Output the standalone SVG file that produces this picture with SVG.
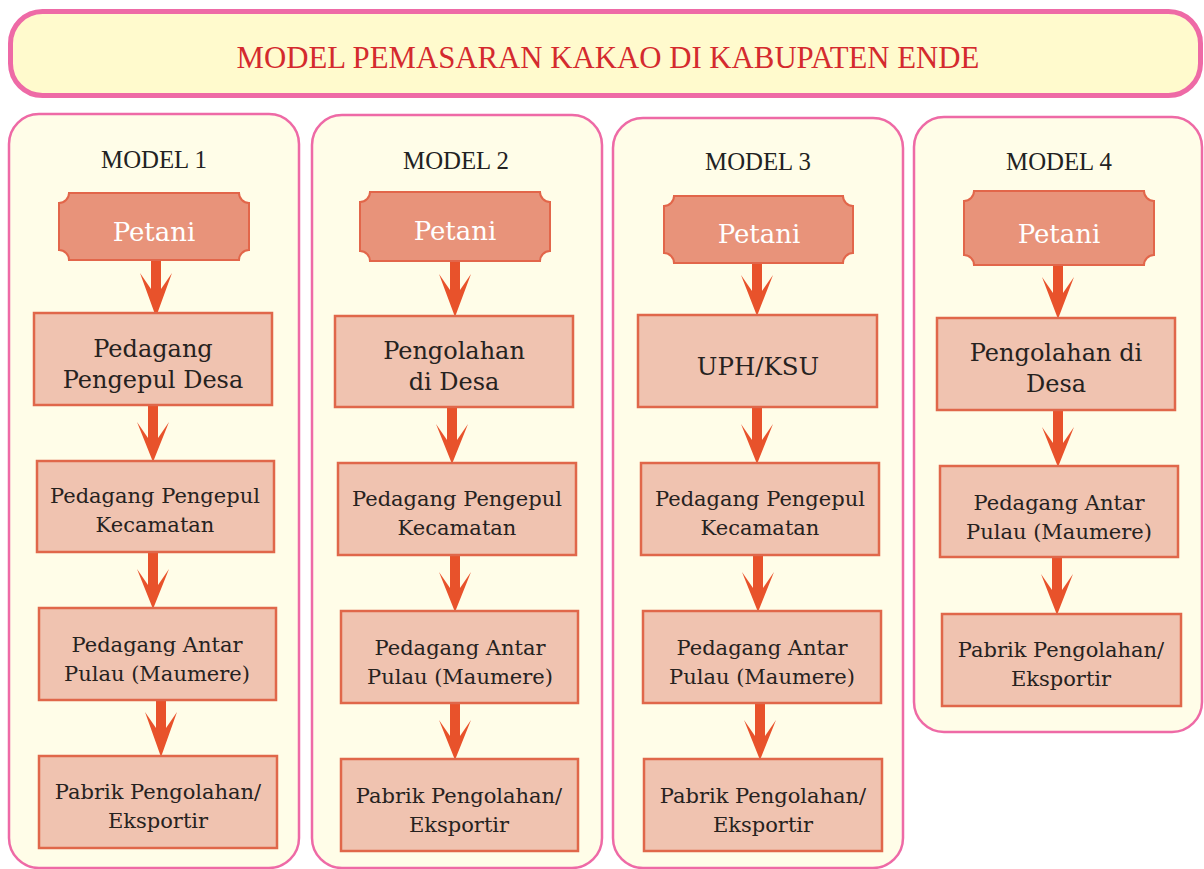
<svg xmlns="http://www.w3.org/2000/svg" width="1204" height="869" viewBox="0 0 1204 869">
  <style>
    .title-box { fill: #FFFACD; stroke: #EE6AA6; stroke-width: 5; }
    .title { font-family: "Liberation Serif", "DejaVu Serif", serif; font-size: 30.8px; fill: #D42A2E; text-anchor: middle; }
    .panel { fill: #FFFDE8; stroke: #EE6AA6; stroke-width: 2.5; }
    .model { font-family: "Liberation Serif", "DejaVu Serif", serif; font-size: 24.8px; fill: #222222; text-anchor: middle; }
    .petani { fill: #E8937A; stroke: #E2664A; stroke-width: 2; }
    .petani-t { font-family: "DejaVu Serif", "Liberation Serif", serif; font-size: 26px; fill: #FFFFFF; text-anchor: middle; }
    .box { fill: #F0C3B0; stroke: #E0674A; stroke-width: 2.5; }
    .lg { font-family: "DejaVu Serif", "Liberation Serif", serif; font-size: 24px; fill: #262220; text-anchor: middle; }
    .sm { font-family: "DejaVu Serif", "Liberation Serif", serif; font-size: 21px; fill: #262220; text-anchor: middle; }
    .arrow { fill: #E8522B; }
  </style>

  <!-- header banner -->
  <g id="header">
    <rect class="title-box" x="10.5" y="11.5" width="1190" height="84" rx="32"/>
    <text class="title" x="608" y="68">MODEL PEMASARAN KAKAO DI KABUPATEN ENDE</text>
  </g>

  <!-- column panels -->
  <g id="panel-1">
    <rect class="panel" x="9" y="114" width="290" height="754" rx="30"/>
    <text class="model" x="154" y="168">MODEL 1</text>
  </g>
  <g id="panel-2">
    <rect class="panel" x="312" y="115" width="290" height="753" rx="30"/>
    <text class="model" x="456" y="169">MODEL 2</text>
  </g>
  <g id="panel-3">
    <rect class="panel" x="613" y="118" width="290" height="750" rx="30"/>
    <text class="model" x="758" y="170">MODEL 3</text>
  </g>
  <g id="panel-4">
    <rect class="panel" x="914" y="117" width="288" height="615" rx="30"/>
    <text class="model" x="1059" y="170">MODEL 4</text>
  </g>

  <!-- connectors -->
  <g id="connectors">
    <!-- model 1 -->
    <path class="arrow" d="M151,260 V289 L140,273 L156,317 L172,273 L161,289 V260 Z"/>
    <path class="arrow" d="M148,405 V438 L137,422 L153,462 L169,422 L158,438 V405 Z"/>
    <path class="arrow" d="M148,552 V585 L137,569 L153,609 L169,569 L158,585 V552 Z"/>
    <path class="arrow" d="M156,700 V728 L145,712 L161,757 L177,712 L166,728 V700 Z"/>
    <!-- model 2 -->
    <path class="arrow" d="M450,261 V290 L439,274 L455,317 L471,274 L460,290 V261 Z"/>
    <path class="arrow" d="M447,407 V440 L436,424 L452,464 L468,424 L457,440 V407 Z"/>
    <path class="arrow" d="M450,555 V588 L439,572 L455,612 L471,572 L460,588 V555 Z"/>
    <path class="arrow" d="M450,703 V736 L439,720 L455,760 L471,720 L460,736 V703 Z"/>
    <!-- model 3 -->
    <path class="arrow" d="M752,263 V291 L741,275 L757,316 L773,275 L762,291 V263 Z"/>
    <path class="arrow" d="M752,407 V440 L741,424 L757,464 L773,424 L762,440 V407 Z"/>
    <path class="arrow" d="M753,555 V588 L742,572 L758,612 L774,572 L763,588 V555 Z"/>
    <path class="arrow" d="M755,703 V736 L744,720 L760,760 L776,720 L765,736 V703 Z"/>
    <!-- model 4 -->
    <path class="arrow" d="M1053,265 V293 L1042,277 L1058,319 L1074,277 L1063,293 V265 Z"/>
    <path class="arrow" d="M1053,410 V443 L1042,427 L1058,467 L1074,427 L1063,443 V410 Z"/>
    <path class="arrow" d="M1052,557 V590 L1041,574 L1057,615 L1073,574 L1062,590 V557 Z"/>
  </g>

  <!-- model 1 nodes -->
  <g id="m1-petani">
    <path class="petani" d="M69,193 H239 A10,10 0 0 0 249,203 V250 A10,10 0 0 0 239,260 H69 A10,10 0 0 0 59,250 V203 A10,10 0 0 0 69,193 Z"/>
    <text class="petani-t" x="154" y="241">Petani</text>
  </g>
  <g id="m1-pengepul-desa">
    <rect class="box" x="34" y="313" width="238" height="92"/>
    <text class="lg" x="153" y="357">Pedagang</text>
    <text class="lg" x="153" y="388">Pengepul Desa</text>
  </g>
  <g id="m1-pengepul-kecamatan">
    <rect class="box" x="37" y="461" width="237" height="91"/>
    <text class="sm" x="155" y="503">Pedagang Pengepul</text>
    <text class="sm" x="155" y="532">Kecamatan</text>
  </g>
  <g id="m1-antar-pulau">
    <rect class="box" x="39" y="608" width="237" height="92"/>
    <text class="sm" x="157" y="652">Pedagang Antar</text>
    <text class="sm" x="157" y="681">Pulau (Maumere)</text>
  </g>
  <g id="m1-pabrik">
    <rect class="box" x="39" y="756" width="238" height="92"/>
    <text class="sm" x="158" y="799">Pabrik Pengolahan/</text>
    <text class="sm" x="158" y="828">Eksportir</text>
  </g>

  <!-- model 2 nodes -->
  <g id="m2-petani">
    <path class="petani" d="M370,192 H540 A10,10 0 0 0 550,202 V251 A10,10 0 0 0 540,261 H370 A10,10 0 0 0 360,251 V202 A10,10 0 0 0 370,192 Z"/>
    <text class="petani-t" x="455" y="240">Petani</text>
  </g>
  <g id="m2-pengolahan">
    <rect class="box" x="335" y="316" width="238" height="91"/>
    <text class="lg" x="454" y="359">Pengolahan</text>
    <text class="lg" x="454" y="390">di Desa</text>
  </g>
  <g id="m2-pengepul-kecamatan">
    <rect class="box" x="338" y="463" width="238" height="92"/>
    <text class="sm" x="457" y="506">Pedagang Pengepul</text>
    <text class="sm" x="457" y="535">Kecamatan</text>
  </g>
  <g id="m2-antar-pulau">
    <rect class="box" x="341" y="611" width="237" height="92"/>
    <text class="sm" x="460" y="655">Pedagang Antar</text>
    <text class="sm" x="460" y="684">Pulau (Maumere)</text>
  </g>
  <g id="m2-pabrik">
    <rect class="box" x="341" y="759" width="237" height="92"/>
    <text class="sm" x="459" y="803">Pabrik Pengolahan/</text>
    <text class="sm" x="459" y="832">Eksportir</text>
  </g>

  <!-- model 3 nodes -->
  <g id="m3-petani">
    <path class="petani" d="M674,196 H843 A10,10 0 0 0 853,206 V253 A10,10 0 0 0 843,263 H674 A10,10 0 0 0 664,253 V206 A10,10 0 0 0 674,196 Z"/>
    <text class="petani-t" x="759" y="243">Petani</text>
  </g>
  <g id="m3-uph-ksu">
    <rect class="box" x="638" y="315" width="239" height="92"/>
    <text class="lg" x="758" y="375" style="font-size:24.5px">UPH/KSU</text>
  </g>
  <g id="m3-pengepul-kecamatan">
    <rect class="box" x="641" y="463" width="238" height="92"/>
    <text class="sm" x="760" y="506">Pedagang Pengepul</text>
    <text class="sm" x="760" y="535">Kecamatan</text>
  </g>
  <g id="m3-antar-pulau">
    <rect class="box" x="643" y="611" width="238" height="92"/>
    <text class="sm" x="762" y="655">Pedagang Antar</text>
    <text class="sm" x="762" y="684">Pulau (Maumere)</text>
  </g>
  <g id="m3-pabrik">
    <rect class="box" x="644" y="759" width="238" height="92"/>
    <text class="sm" x="763" y="803">Pabrik Pengolahan/</text>
    <text class="sm" x="763" y="832">Eksportir</text>
  </g>

  <!-- model 4 nodes -->
  <g id="m4-petani">
    <path class="petani" d="M974,191 H1144 A10,10 0 0 0 1154,201 V255 A10,10 0 0 0 1144,265 H974 A10,10 0 0 0 964,255 V201 A10,10 0 0 0 974,191 Z"/>
    <text class="petani-t" x="1059" y="243">Petani</text>
  </g>
  <g id="m4-pengolahan">
    <rect class="box" x="937" y="318" width="238" height="92"/>
    <text class="lg" x="1056" y="361">Pengolahan di</text>
    <text class="lg" x="1056" y="392">Desa</text>
  </g>
  <g id="m4-antar-pulau">
    <rect class="box" x="940" y="466" width="238" height="91"/>
    <text class="sm" x="1059" y="510">Pedagang Antar</text>
    <text class="sm" x="1059" y="539">Pulau (Maumere)</text>
  </g>
  <g id="m4-pabrik">
    <rect class="box" x="942" y="614" width="239" height="92"/>
    <text class="sm" x="1061" y="657">Pabrik Pengolahan/</text>
    <text class="sm" x="1061" y="686">Eksportir</text>
  </g>
</svg>
